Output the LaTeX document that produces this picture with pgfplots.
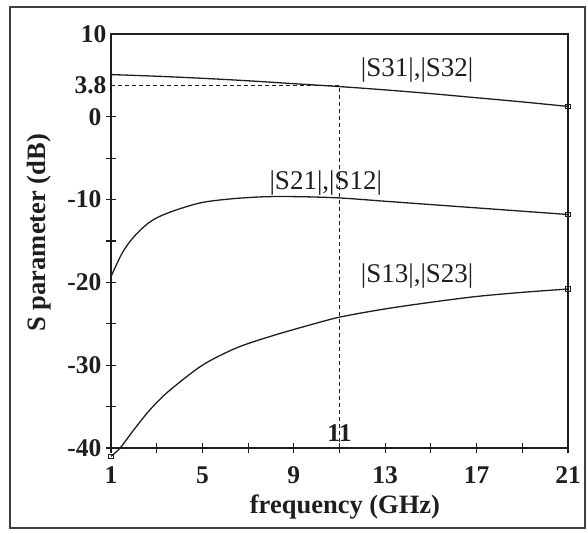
\documentclass[border=0pt]{standalone}
\usepackage{pgfplots}
\pgfplotsset{compat=1.18}
\usepackage{fontspec}
\setmainfont{Liberation Serif}
\definecolor{ink}{HTML}{1E1E1E}
\begin{document}
\begin{tikzpicture}
\useasboundingbox (-111pt,-85pt) rectangle (477pt,448pt);
\draw[ink!85,line width=1.3pt] (-101pt,-80pt) rectangle (474pt,441pt);
\begin{axis}[
  at={(0pt,0pt)}, anchor=south west,
  scale only axis, width=457pt, height=414pt,
  xmin=1, xmax=21, ymin=-40, ymax=10,
  axis line style={ink,line width=1.1pt},
  tick pos=left, tick align=center, major tick length=10pt,
  tick style={ink,line width=1.1pt},
  xtick={1,3,...,21},
  xticklabels={1,,5,,9,,13,,17,,21},
  ytick={-40,-35,...,0},
  yticklabels={-40,,-30,,-20,,-10,,0},
  extra y ticks={3.8,10}, extra y tick labels={3.8,10},
  extra y tick style={major tick length=0pt},
  ticklabel style={font=\fontsize{25.5}{28}\selectfont\bfseries,text=ink},
  xticklabel style={yshift=-10pt},
  yticklabel style={xshift=-1pt},
  xlabel={frequency (GHz)}, ylabel={S parameter (dB)},
  every axis x label/.style={at={(axis description cs:0.512,-0.143)},anchor=center,
    font=\fontsize{26.5}{30}\selectfont\bfseries,text=ink},
  every axis y label/.style={at={(axis description cs:-0.157,0.52)},anchor=center,rotate=90,
    font=\fontsize{26.5}{30}\selectfont\bfseries,text=ink},
  clip=false,
]
% |S31|,|S32|
\addplot[ink,line width=1.3pt,smooth] coordinates {
  (1,5.1)(3,4.9)(5,4.65)(7,4.35)(9,4.0)(11,3.65)(13,3.25)(15,2.8)(17,2.3)(19,1.8)(21,1.25)};
% |S21|,|S12|
\addplot[ink,line width=1.3pt,smooth] coordinates {
  (1,-19.3)(1.5,-16.4)(2,-14.5)(2.7,-12.7)(3.5,-11.6)(4.9,-10.4)(6.3,-9.9)(7.8,-9.65)
  (9.3,-9.65)(11,-9.8)(13,-10.2)(15,-10.6)(17,-11.0)(19,-11.4)(21,-11.8)};
% |S13|,|S23|
\addplot[ink,line width=1.3pt,smooth] coordinates {
  (1,-41)(1.4,-40)(2,-37.8)(2.7,-35.4)(3.5,-33.2)(5,-30.0)(6.5,-27.9)(8,-26.5)
  (9.5,-25.3)(11,-24.2)(13,-23.2)(15,-22.4)(17,-21.7)(19,-21.2)(21,-20.8)};
% end markers
\addplot[ink,only marks,mark=square,mark size=2.2pt,line width=0.9pt] coordinates {
  (21,1.25)(21,-11.8)(21,-20.8)(1,-41)};
% 3.8 dB reading at 11 GHz
\addplot[ink,line width=0.9pt,dash pattern=on 4pt off 3pt] coordinates {
  (1,3.8)(11,3.8)(11,-40)};
\node[font=\fontsize{25.5}{28}\selectfont\bfseries,text=ink,anchor=south,inner sep=1pt] at (axis cs:11,-39.4) {11};
\node[font=\fontsize{27}{30}\selectfont,text=ink] at (axis cs:14.4,5.6) {|S31|,|S32|};
\node[font=\fontsize{27}{30}\selectfont,text=ink] at (axis cs:10.4,-8.0) {|S21|,|S12|};
\node[font=\fontsize{27}{30}\selectfont,text=ink] at (axis cs:14.4,-19.2) {|S13|,|S23|};
\end{axis}
\end{tikzpicture}
\end{document}
